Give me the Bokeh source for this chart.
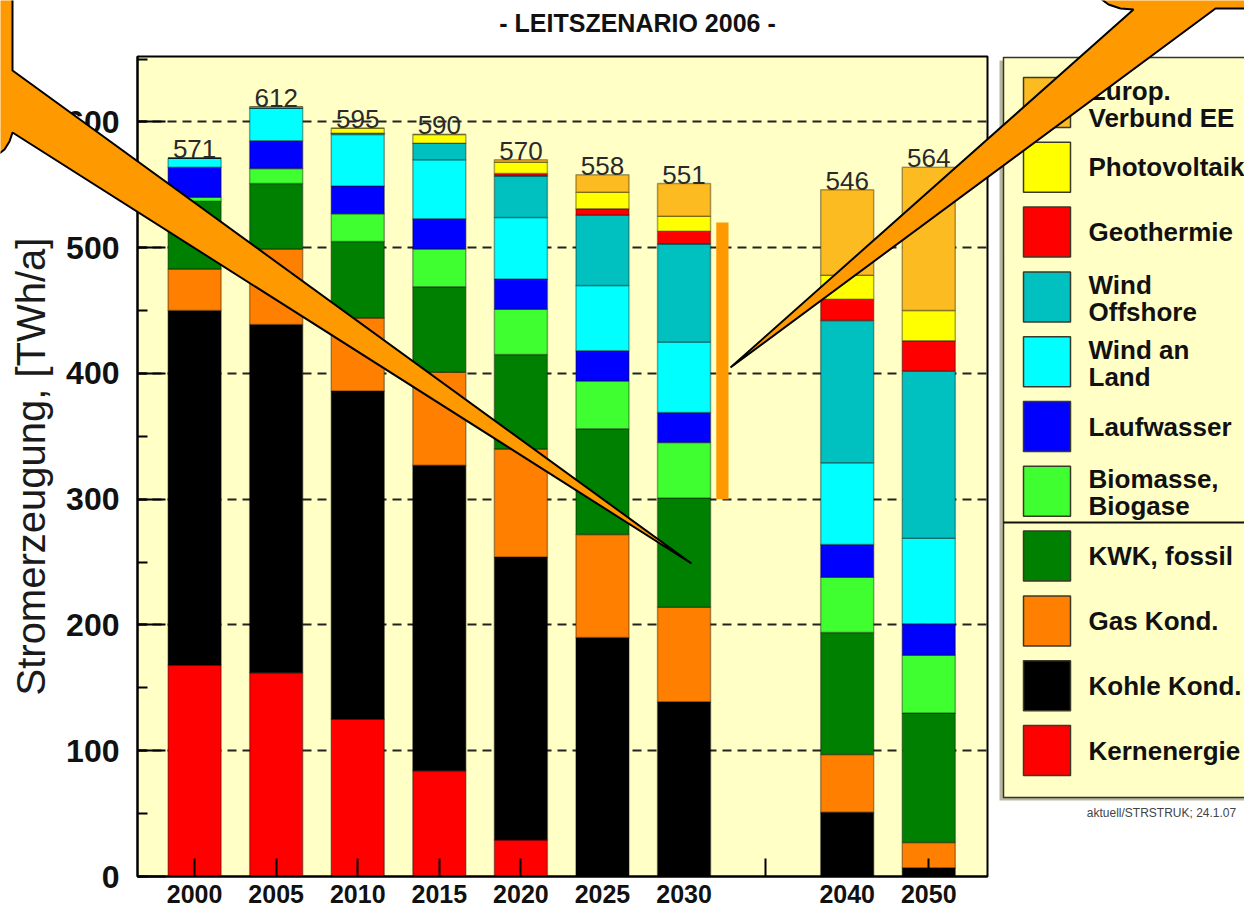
from bokeh.plotting import figure
from bokeh.models import (ColumnDataSource, FixedTicker, SingleIntervalTicker,
                          PolyAnnotation, Range1d, Column)
from bokeh.core.properties import value
from bokeh.embed import file_html
from bokeh.resources import INLINE

# ---------------- data ----------------
years = ["2000", "2005", "2010", "2015", "2020", "2025", "2030", "2040", "2050"]
positions = [0, 1, 2, 3, 4, 5, 6, 8, 9]
totals = [571, 612, 595, 590, 570, 558, 551, 546, 564]

kernenergie = [168, 162, 125, 84, 29, 0, 0, 0, 0]
kohle = [282, 277, 261, 243, 225, 190, 139, 51, 7]
gas = [33, 60, 58, 74, 86, 82, 75, 46, 20]
kwk = [54, 52, 61, 68, 75, 84, 87, 97, 103]
biomasse = [3, 12, 22, 30, 36, 38, 44, 44, 46]
laufwasser = [24, 22, 22, 24, 24, 24, 24, 26, 25]
wind_land = [7, 26, 41, 47, 49, 52, 56, 65, 68]
wind_off = [0, 0, 1, 13, 33, 56, 78, 113, 133]
geothermie = [0, 0, 0, 0, 2, 5, 10, 17, 24]
photovoltaik = [0, 1, 4, 7, 9, 13, 12, 19, 24]
europ_ee = [0, 0, 0, 0, 2, 14, 26, 68, 114]

series_keys = ["kern", "kohle", "gas", "kwk", "bio", "lauf", "wland", "woff", "geo", "pv", "ee"]
series_vals = [kernenergie, kohle, gas, kwk, biomasse, laufwasser, wind_land, wind_off,
               geothermie, photovoltaik, europ_ee]
series_colors = ["#FF0000", "#000000", "#FF8000", "#008000", "#40FF30", "#0000FF",
                 "#00FFFF", "#00C0C0", "#FF0000", "#FFFF00", "#FDBB22"]

legend_lines = [["Europ.", "Verbund EE"], ["Photovoltaik"], ["Geothermie"], ["Wind", "Offshore"],
                ["Wind an", "Land"], ["Laufwasser"], ["Biomasse,", "Biogase"], ["KWK, fossil"],
                ["Gas Kond."], ["Kohle Kond."], ["Kernenergie"]]
legend_colors = list(reversed(series_colors))

bracket_range = [300, 520]

FONT = "Liberation Sans"
W, H = 1244, 913
BG = "#FFFFC6"

# ---------------- main chart ----------------
X0, X1 = -0.7, 9.72
p = figure(width=W, height=H, x_range=Range1d(X0, X1), y_range=Range1d(0, 652),
           output_backend="svg", toolbar_location=None, min_border_left=137,
           min_border_right=W - 987, min_border_top=56, min_border_bottom=H - 876)
p.background_fill_color = BG
p.border_fill_color = "white"
p.outline_line_color = "black"
p.outline_line_width = 2

data = dict(x=positions)
for k, v in zip(series_keys, series_vals):
    data[k] = v
src = ColumnDataSource(data)
p.vbar_stack(series_keys, x="x", width=0.65, source=src, fill_color=series_colors,
             line_color="black", line_alpha=0.35, line_width=1.5)

p.text(x=positions, y=totals, text=[str(t) for t in totals], text_font=value(FONT),
       text_font_size="26px", text_align="center", text_baseline="alphabetic",
       y_offset=-9, text_color="#2a2a2a")

# orange bracket beside 2030
bx = 6.47
p.add_layout(PolyAnnotation(xs=[bx - 0.075, bx + 0.075, bx + 0.075, bx - 0.075],
                            ys=[bracket_range[0], bracket_range[0], bracket_range[1], bracket_range[1]],
                            fill_color="#FF9900", fill_alpha=1.0, line_color=None))

# axes
p.xaxis.ticker = FixedTicker(ticks=list(range(10)))
overrides = {i: "" for i in range(10)}
for pos, yr in zip(positions, years):
    overrides[pos] = yr
p.xaxis.major_label_overrides = overrides
p.xaxis.major_label_text_font = FONT
p.xaxis.major_label_text_font_size = "25px"
p.xaxis.major_label_text_font_style = "bold"
p.xaxis.major_label_text_color = "#111111"
p.xaxis.major_label_standoff = 8
p.xaxis.major_tick_in = 18
p.xaxis.major_tick_out = 0
p.xaxis.major_tick_line_width = 2
p.xaxis.minor_tick_line_color = None
p.xaxis.axis_line_width = 2

p.yaxis.ticker = SingleIntervalTicker(interval=100, num_minor_ticks=2)
p.yaxis.major_label_text_font = FONT
p.yaxis.major_label_text_font_size = "32px"
p.yaxis.major_label_text_font_style = "bold"
p.yaxis.major_label_text_color = "#111111"
p.yaxis.major_label_standoff = 18
p.yaxis.major_tick_in = 28
p.yaxis.major_tick_out = 0
p.yaxis.minor_tick_in = 10
p.yaxis.minor_tick_out = 0
p.yaxis.major_tick_line_width = 2
p.yaxis.minor_tick_line_width = 2
p.yaxis.axis_line_width = 2
p.yaxis.axis_label = "Stromerzeugung, [TWh/a]"
p.yaxis.axis_label_text_font = FONT
p.yaxis.axis_label_text_font_size = "40px"
p.yaxis.axis_label_text_font_style = "normal"
p.yaxis.axis_label_text_color = "#1a1a1a"
p.yaxis.axis_label_standoff = 10

p.xgrid.visible = False
p.ygrid.grid_line_color = "#222222"
p.ygrid.grid_line_width = 2
p.ygrid.grid_line_dash = "9 6"

# ---------------- overlay (title, legend, callouts) in canvas pixels ----------------
o = figure(width=W, height=H, x_range=Range1d(0, W), y_range=Range1d(H, 0),
           output_backend="svg", toolbar_location=None, min_border=0,
           x_axis_type=None, y_axis_type=None)
o.grid.visible = False
o.outline_line_color = None
o.background_fill_alpha = 0
o.border_fill_alpha = 0
o.styles = {"position": "absolute", "top": "0px", "left": "0px"}
for fig in (p, o):
    try:
        fig.frame_align = False
    except Exception:
        pass

o.text(x=[637], y=[22], text=["- LEITSZENARIO 2006 -"], text_font=value(FONT),
       text_font_size="25px", text_font_style="bold", text_align="center",
       text_baseline="middle", text_color="#111111")

# legend frame
o.quad(left=[999], right=[W + 10], top=[60], bottom=[800], fill_color="#B8B8A0", line_color=None)
o.quad(left=[1003], right=[W + 10], top=[57], bottom=[797], fill_color=BG,
       line_color="#333333", line_width=1.5)
o.line(x=[1003, W], y=[522, 522], line_color="#111111", line_width=2)

sq_y, txt_x, txt_y, txt = [], [], [], []
for k, lines in enumerate(legend_lines):
    cy = 102 + 64.8 * k
    sq_y.append(cy)
    offs = [0] if len(lines) == 1 else [-12, 15]
    for line, off in zip(lines, offs):
        txt_x.append(1088)
        txt_y.append(cy + off)
        txt.append(line)
o.quad(left=1023, right=1070, top=[y - 25 for y in sq_y], bottom=[y + 25 for y in sq_y],
       fill_color=legend_colors, line_color="#3a3a2a", line_width=1.5)
o.text(x=txt_x, y=txt_y, text=txt, text_font=value(FONT), text_font_size="26px",
       text_font_style="bold", text_align="left", text_baseline="middle", text_color="#111111")
o.text(x=[1161], y=[812], text=["aktuell/STRSTRUK; 24.1.07"], text_font=value(FONT),
       text_font_size="12px", text_align="center", text_baseline="middle", text_color="#444444")

# callouts
left_call = [(-60, -30), (12, -30), (12, 70), (691, 563), (12, 132), (9, 141), (4, 149),
             (-4, 155), (-60, 160)]
right_call = [(1098, -30), (1100, -2), (1108, 4), (1120, 8), (1133, 9), (730, 367),
              (1215, 8), (1290, 8), (1290, -30)]
o.patches(xs=[[a for a, b in pts] for pts in (left_call, right_call)],
          ys=[[b for a, b in pts] for pts in (left_call, right_call)],
          fill_color="#FF9900", line_color="black", line_width=2)

lay = Column(children=[p, o], styles={"position": "relative"})
open("out.html", "w").write(file_html(lay, INLINE))
